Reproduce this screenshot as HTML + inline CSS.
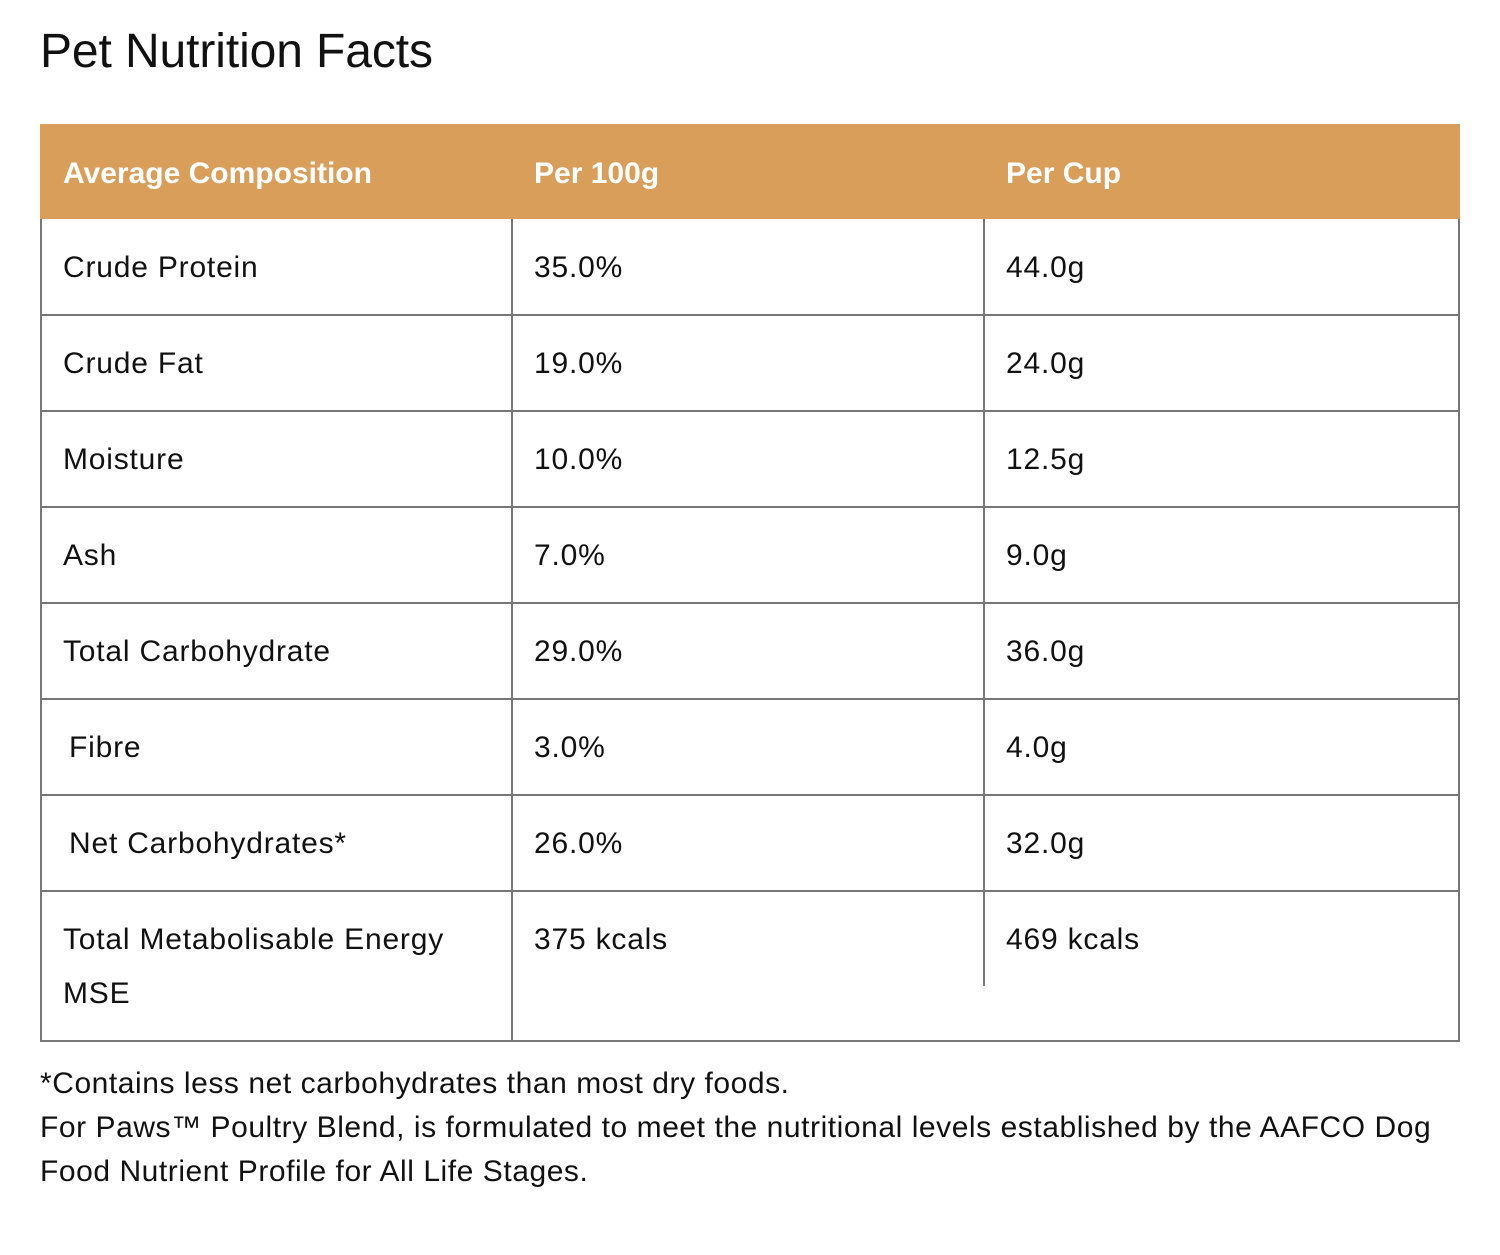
<!DOCTYPE html>
<html><head><meta charset="utf-8"><style>
html,body{margin:0;padding:0;background:#fff;width:1500px;height:1255px;overflow:hidden}
body{font-family:"Liberation Sans","DejaVu Sans",sans-serif;color:#111;position:relative}
h1{position:absolute;left:40px;top:24px;margin:0;font-size:48px;font-weight:500;letter-spacing:-0.1px;color:#111}
.hdr{position:absolute;left:40px;top:124px;width:1420px;height:95px;background:#D99E5A}
.ht{position:absolute;top:157px;font-size:30px;font-weight:bold;color:#fff;letter-spacing:0px}
.h{position:absolute;height:2px;background:#777;left:40px;width:1420px}
.v{position:absolute;width:2px;background:#777}
.t{position:absolute;font-size:30px;color:#111;white-space:nowrap;letter-spacing:0.8px}
.f{position:absolute;left:40px;font-size:30px;color:#111;white-space:nowrap;letter-spacing:0.55px}
</style></head><body>
<h1>Pet Nutrition Facts</h1>
<div class="hdr"></div>
<div class="ht" style="left:63px">Average Composition</div>
<div class="ht" style="left:534px">Per 100g</div>
<div class="ht" style="left:1006px">Per Cup</div>

<div class="h" style="top:314px"></div>
<div class="h" style="top:410px"></div>
<div class="h" style="top:506px"></div>
<div class="h" style="top:602px"></div>
<div class="h" style="top:698px"></div>
<div class="h" style="top:794px"></div>
<div class="h" style="top:890px"></div>
<div class="h" style="top:1040px"></div>
<div class="v" style="left:40px;top:219px;height:823px"></div>
<div class="v" style="left:511px;top:219px;height:823px"></div>
<div class="v" style="left:983px;top:219px;height:767px"></div>
<div class="v" style="left:1458px;top:219px;height:823px"></div>

<div class="t" style="left:63px;top:251px">Crude Protein</div>
<div class="t" style="left:534px;top:251px">35.0%</div>
<div class="t" style="left:1006px;top:251px">44.0g</div>
<div class="t" style="left:63px;top:347px">Crude Fat</div>
<div class="t" style="left:534px;top:347px">19.0%</div>
<div class="t" style="left:1006px;top:347px">24.0g</div>
<div class="t" style="left:63px;top:443px">Moisture</div>
<div class="t" style="left:534px;top:443px">10.0%</div>
<div class="t" style="left:1006px;top:443px">12.5g</div>
<div class="t" style="left:63px;top:539px">Ash</div>
<div class="t" style="left:534px;top:539px">7.0%</div>
<div class="t" style="left:1006px;top:539px">9.0g</div>
<div class="t" style="left:63px;top:635px">Total Carbohydrate</div>
<div class="t" style="left:534px;top:635px">29.0%</div>
<div class="t" style="left:1006px;top:635px">36.0g</div>
<div class="t" style="left:69px;top:731px">Fibre</div>
<div class="t" style="left:534px;top:731px">3.0%</div>
<div class="t" style="left:1006px;top:731px">4.0g</div>
<div class="t" style="left:69px;top:827px">Net Carbohydrates*</div>
<div class="t" style="left:534px;top:827px">26.0%</div>
<div class="t" style="left:1006px;top:827px">32.0g</div>
<div class="t" style="left:63px;top:923px">Total Metabolisable Energy</div>
<div class="t" style="left:63px;top:977px">MSE</div>
<div class="t" style="left:534px;top:923px">375 kcals</div>
<div class="t" style="left:1006px;top:923px">469 kcals</div>

<div class="f" style="top:1067px">*Contains less net carbohydrates than most dry foods.</div>
<div class="f" style="top:1111px">For Paws™ Poultry Blend, is formulated to meet the nutritional levels established by the AAFCO Dog</div>
<div class="f" style="top:1155px">Food Nutrient Profile for All Life Stages.</div>
</body></html>
